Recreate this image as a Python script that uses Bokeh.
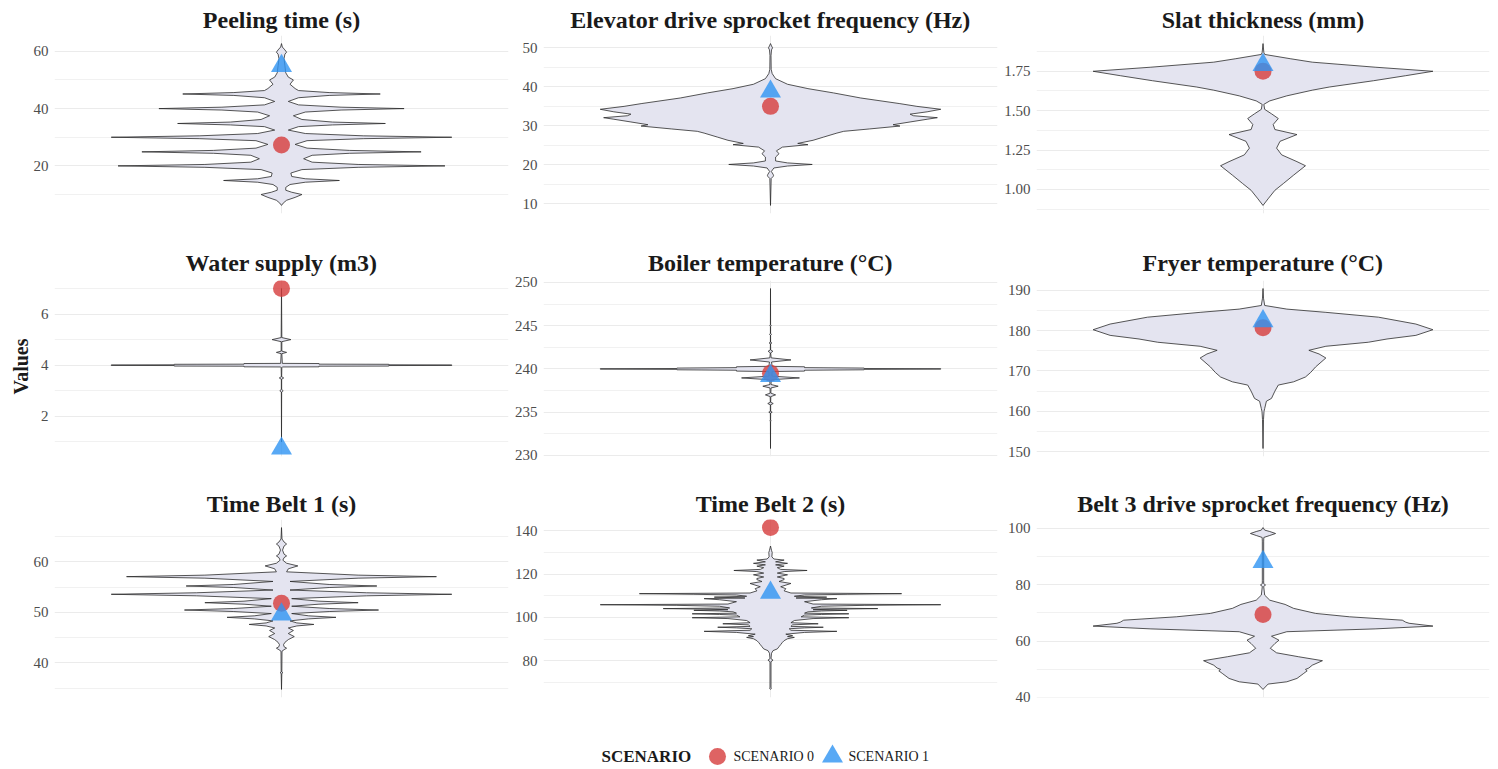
import numpy as np
from bokeh.plotting import figure
from bokeh.layouts import row, column
from bokeh.models import Range1d, FixedTicker, PrintfTickFormatter, Grid
from bokeh.embed import file_html
from bokeh.resources import INLINE
from bokeh.core.properties import value

# ---------------- data ----------------
titles = ["Peeling time (s)", "Elevator drive sprocket frequency (Hz)", "Slat thickness (mm)",
          "Water supply (m3)", "Boiler temperature (\u00b0C)", "Fryer temperature (\u00b0C)",
          "Time Belt 1 (s)", "Time Belt 2 (s)", "Belt 3 drive sprocket frequency (Hz)"]

# violin outlines: value and relative half-width (% of widest point)
peel_y = [6.2, 7.0, 8.0, 9.0, 10.0, 10.8, 11.5, 12.5, 13.5, 14.3, 14.9, 15.5, 16.3, 17.5, 18.7, 19.5, 20.0, 20.5,
          21.3, 22.5, 23.7, 24.4, 24.9, 25.4, 26.2, 27.5, 28.8, 29.5, 30.0, 30.5, 31.3, 32.5, 33.7, 34.3, 34.8,
          35.3, 36.2, 37.5, 38.8, 39.5, 40.0, 40.5, 41.3, 42.5, 43.8, 44.6, 45.1, 45.6, 46.3, 47.0, 48.5, 50.0,
          51.0, 52.5, 55.0, 57.5, 59.0, 59.7, 60.5, 61.5, 62.7]
peel_w = [0, 1, 3, 8, 12, 6, 2.5, 2.5, 5, 14, 34, 14, 6, 5.5, 12, 45, 96, 45, 18, 13, 18, 40, 82, 40, 15, 8, 15,
          48, 100, 48, 14, 4, 10, 30, 61, 30, 12, 7, 14, 35, 72, 35, 10, 4, 10, 28, 58, 28, 10, 8, 5, 7, 4, 2.5,
          2, 1.5, 2, 3, 2, 0.5, 0]

elev_y = [9.6, 16.5, 17.0, 17.3, 17.6, 18.3, 19.2, 19.7, 20.1, 20.5, 21.0, 22.0, 22.85, 23.6, 24.55, 25.17, 25.5,
          26.3, 27.1, 28.15, 28.6, 29.2, 29.95, 30.3, 31.0, 31.7, 32.1, 32.6, 33.0, 33.6, 34.25, 35.0, 35.7,
          37.15, 38.45, 39.55, 40.67, 42.1, 43.4, 44.5, 48.0, 49.5, 50.0, 50.5, 51.1]
elev_w = [0, 0.4, 1.5, 1.8, 1.5, 0.5, 2, 10, 24.5, 10, 3, 3, 5, 3.5, 7, 22, 16, 25, 31, 39, 43, 58, 76, 72, 82,
          92, 98, 84, 82, 92, 100, 86, 76, 53, 37, 22, 10, 3, 1, 0.4, 0.3, 0.6, 1.2, 0.6, 0]

slat_y = [0.898, 0.94, 0.994, 1.037, 1.09, 1.15, 1.176, 1.219, 1.262, 1.305, 1.348, 1.38, 1.412, 1.45, 1.48,
          1.508, 1.54, 1.562, 1.594, 1.63, 1.65, 1.69, 1.722, 1.75, 1.776, 1.808, 1.83, 1.857, 1.87, 1.926]
slat_w = [0, 3, 7, 12, 18, 25, 20, 11, 8, 10, 20, 7, 6, 9, 5, 1, 0.5, 4, 14, 29, 39, 65, 84, 100, 66, 29, 16,
          1, 0.5, 0]

water_y = [1.0, 2.95, 3.0, 3.05, 3.45, 3.5, 3.55, 3.9, 3.93, 3.935, 3.96, 3.965, 3.985, 3.99, 4.01, 4.015,
           4.035, 4.04, 4.065, 4.07, 4.45, 4.5, 4.55, 4.92, 5.0, 5.08, 7.0]
water_w = [0, 0.1, 1, 0.1, 0.1, 1.3, 0.1, 0.2, 0.5, 22, 22, 63, 63, 100, 100, 63, 63, 22, 22, 0.5, 0.2, 3, 0.2,
           0.2, 5.5, 0.2, 0]

boiler_y = [230.8, 233.9, 234.0, 234.1, 234.9, 235.0, 235.1, 235.85, 236.0, 236.15, 236.8, 237.0, 237.2, 237.8,
            238.0, 238.2, 238.75, 238.96, 239.17, 239.7, 239.75, 239.85, 239.9, 239.95, 239.98, 240.02, 240.05,
            240.1, 240.15, 240.25, 240.3, 240.8, 241.04, 241.28, 241.85, 242.04, 242.2, 242.9, 243.0, 243.1,
            243.9, 244.0, 244.1, 244.9, 245.0, 245.1, 249.3]
boiler_w = [0, 0.05, 0.3, 0.05, 0.1, 1, 0.1, 0.1, 1.6, 0.1, 0.2, 3, 0.2, 0.3, 4.5, 0.3, 0.5, 17, 0.8, 1, 20, 20,
            55, 55, 100, 100, 55, 55, 20, 20, 1, 0.6, 12, 0.4, 0.1, 1.4, 0.1, 0.05, 0.8, 0.05, 0.05, 0.6, 0.05,
            0.05, 0.4, 0.05, 0]

fryer_y = [150.8, 158.0, 160.0, 160.7, 162.5, 163.2, 165.0, 166.5, 167.3, 168.5, 169.6, 171.0, 173.2, 174.2,
           175.1, 176.1, 177.1, 177.9, 178.8, 180.2, 181.6, 183.3, 184.5, 185.3, 186.2, 188.0, 190.4]
fryer_w = [0, 0.3, 0.6, 1, 2, 5, 7, 9, 18, 25, 28, 31, 37, 33, 27, 37, 62, 73, 90, 100, 90, 68, 37, 14, 1, 0.3, 0]

tb1_y = [34.75, 37.9, 38.05, 38.2, 42.3, 42.6, 42.9, 43.2, 43.6, 44.05, 44.6, 45.2, 45.8, 46.4, 46.9, 47.3, 47.6,
         47.9, 48.3, 48.7, 49.0, 49.3, 49.75, 50.15, 50.45, 50.75, 51.2, 51.6, 51.9, 52.2, 52.7, 53.26, 53.56,
         53.86, 54.4, 54.9, 55.2, 55.5, 56.1, 56.75, 57.05, 57.35, 58.0, 58.6, 59.17, 59.7, 60.3, 60.8, 61.15,
         61.5, 62.3, 63.1, 63.5, 63.9, 64.5, 66.75]
tb1_w = [0, 0.2, 0.8, 0.2, 0.3, 1.5, 3, 1.5, 1.2, 2, 4, 7.5, 4, 7, 4, 9, 19, 9, 5, 16, 32, 16, 6, 28, 57, 28, 6,
         22, 45, 22, 6, 50, 100, 50, 5, 28, 56, 28, 5, 45, 91, 45, 3, 4, 9.6, 3, 0.8, 1.5, 3, 1.5, 0.6, 1.5, 3,
         1.5, 0.3, 0]

tb2_y = [66.8, 67.3, 67.8, 79.6, 80.3, 81.0, 83.5, 84.7, 85.5, 86.5, 87.5, 88.5, 89.3, 90.2, 90.8, 91.2, 91.6,
         92.3, 93.1, 93.6, 94.1, 94.8, 95.2, 95.5, 95.9, 96.6, 97.1, 97.6, 98.6, 99.5, 99.9, 100.3, 101.1, 101.4,
         101.7, 102.0, 102.6, 103.0, 103.3, 103.6, 103.8, 104.1, 104.4, 105.2, 105.6, 105.9, 106.2, 107.3, 108.2,
         108.7, 109.0, 109.4, 109.8, 110.4, 110.7, 111.0, 111.3, 112.3, 113.3, 114.2, 115.7, 116.6, 117.5, 118.0,
         118.7, 119.7, 120.5, 121.2, 121.7, 122.2, 123.0, 123.7, 124.3, 125.0, 125.7, 126.5, 127.0, 128.0, 130.0,
         131.0, 133.0]
tb2_w = [0, 0.5, 0.3, 0.3, 1.5, 0.3, 0.6, 1.5, 4, 5, 6, 7, 8, 10, 14, 10, 13, 9, 20, 39, 12, 11, 20, 31, 12, 13,
         28, 12, 14, 25, 46, 18, 20, 30, 46, 20, 22, 30, 45, 25, 35, 63, 24, 30, 55, 100, 25, 20, 30, 39, 15, 33,
         14, 20, 45, 77, 12, 8, 9, 6, 12, 5, 8, 8, 4, 10, 4, 8, 21.5, 6, 4, 8, 3, 10, 3, 8, 2, 0.8, 1, 0.6, 0]

belt3_y = [42.8, 44.7, 45.5, 46.7, 48.5, 49.4, 49.9, 50.4, 51.4, 53.0, 54.4, 55.8, 57.4, 59.1, 60.3, 61.7, 63.3,
           64.3, 65.3, 66.3, 66.7, 67.4, 68.6, 69.8, 71.6, 73.0, 74.5, 76.3, 79.4, 79.9, 80.4, 81.6, 95.5, 96.8,
           97.5, 98.2, 98.9, 99.4, 100.3]
belt3_w = [0, 3, 14, 20, 24, 26, 25, 27, 29, 35, 21, 8, 4.3, 7, 9.4, 5, 14, 66, 100, 86, 84, 82, 51, 31, 18, 13,
           4, 1, 0.4, 1.5, 0.4, 0.4, 0.4, 0.5, 4, 7.4, 4, 1, 0]

profiles_y = [peel_y, elev_y, slat_y, water_y, boiler_y, fryer_y, tb1_y, tb2_y, belt3_y]
profiles_w = [peel_w, elev_w, slat_w, water_w, boiler_w, fryer_w, tb1_w, tb2_w, belt3_w]

scenario0 = [27.3, 35.0, 1.75, 7.0, 239.5, 180.7, 51.8, 141.5, 69.4]
scenario1 = [54.9, 38.8, 1.79, 0.74, 239.2, 182.3, 49.6, 111.5, 88.1]

major_ticks = [[20, 40, 60], [10, 20, 30, 40, 50], [1.00, 1.25, 1.50, 1.75], [2, 4, 6],
               [230, 235, 240, 245, 250], [150, 160, 170, 180, 190], [40, 50, 60], [80, 100, 120, 140],
               [40, 60, 80, 100]]
minor_ticks = [[10, 30, 50], [15, 25, 35, 45], [0.875, 1.125, 1.375, 1.625, 1.875], [1, 3, 5, 7],
               [232.5, 237.5, 242.5, 247.5], [155, 165, 175, 185], [35, 45, 55, 65], [70, 90, 110, 130],
               [50, 70, 90]]
tick_formats = ["%d", "%d", "%.2f", "%d", "%d", "%d", "%d", "%d", "%d"]

legend_title = "SCENARIO"
legend_labels = ["SCENARIO 0", "SCENARIO 1"]

# ---------------- style ----------------
FONT = "Liberation Serif"
RED = "#D63C3C"
BLUE = "#2E93F2"
VIOLIN_FILL = "#E4E4F0"
VIOLIN_LINE = "#2B2B2B"
GRID = "#EBEBEB"
GRID_MINOR = "#F1F1F1"

col_w = [480, 491, 489]
col_bl = [24, 33, 35]
col_br = [2, 4, 1]
row_h = [240, 240, 240]
row_bt = [35, 40, 39]
row_bb = [27, 24, 23]
row_title_standoff = [6, 9, 6]

figs = []
for i in range(9):
    r, c = divmod(i, 3)
    ys = np.array(profiles_y[i], dtype=float)
    ws = np.array(profiles_w[i], dtype=float)
    half = ws / ws.max() * 0.45
    lo = min(ys.min(), scenario0[i], scenario1[i])
    hi = max(ys.max(), scenario0[i], scenario1[i])
    pad = 0.05 * (hi - lo)
    p = figure(width=col_w[c], height=row_h[r], x_range=Range1d(-0.6, 0.6),
               y_range=Range1d(lo - pad, hi + pad), output_backend="svg", toolbar_location=None,
               x_axis_location=None, min_border_left=col_bl[c], min_border_right=col_br[c],
               min_border_top=row_bt[r], min_border_bottom=row_bb[r])
    p.outline_line_color = None
    p.background_fill_color = "white"
    p.border_fill_color = "white"
    p.title.text = titles[i]
    p.title.align = "center"
    p.title.text_font = FONT
    p.title.text_font_style = "bold"
    p.title.text_font_size = "24px"
    p.title.text_color = "#1A1A1A"
    p.title.standoff = row_title_standoff[r]

    yax = p.yaxis[0]
    yax.ticker = FixedTicker(ticks=major_ticks[i], minor_ticks=minor_ticks[i])
    yax.formatter = PrintfTickFormatter(format=tick_formats[i])
    yax.axis_line_color = None
    yax.major_tick_line_color = None
    yax.minor_tick_line_color = None
    yax.major_tick_out = 0
    yax.major_tick_in = 0
    yax.minor_tick_out = 0
    yax.major_label_standoff = 6
    yax.major_label_text_font = FONT
    yax.major_label_text_font_size = "15px"
    yax.major_label_text_color = "#4D4D4D"

    p.ygrid.grid_line_color = GRID
    p.ygrid.grid_line_width = 1
    p.ygrid.minor_grid_line_color = GRID_MINOR
    p.ygrid.minor_grid_line_width = 1
    if len(p.xgrid) == 0:
        p.add_layout(Grid(dimension=0))
    p.xgrid.ticker = FixedTicker(ticks=[0])
    p.xgrid.grid_line_color = GRID
    p.xgrid.grid_line_width = 1

    p.patch(np.concatenate([half, -half[::-1]]), np.concatenate([ys, ys[::-1]]),
            fill_color=VIOLIN_FILL, fill_alpha=1.0, line_color=VIOLIN_LINE, line_width=0.8)
    p.scatter([0], [scenario0[i]], marker="circle", size=17, fill_color=RED, fill_alpha=0.8, line_color=None)
    p.scatter([0], [scenario1[i]], marker="triangle", size=21, fill_color=BLUE, fill_alpha=0.8,
              line_color=None)
    figs.append(p)

# y-axis label strip
strip = figure(width=30, height=720, x_range=Range1d(0, 30), y_range=Range1d(0, 720),
               output_backend="svg", toolbar_location=None, x_axis_location=None, y_axis_location=None,
               min_border=0)
strip.outline_line_color = None
strip.grid.visible = False
strip.text(x=[20], y=[354], text=["Values"], angle=np.pi / 2, text_font=value(FONT), text_font_style="bold",
           text_font_size="20px", text_align="center", text_baseline="middle", text_color="#1A1A1A")

# legend strip
leg = figure(width=1490, height=48, x_range=Range1d(0, 1490), y_range=Range1d(0, 48),
             output_backend="svg", toolbar_location=None, x_axis_location=None, y_axis_location=None,
             min_border=0)
leg.outline_line_color = None
leg.grid.visible = False
ly = 12
leg.text(x=[601], y=[ly], text=[legend_title], text_font=value(FONT), text_font_style="bold",
         text_font_size="17px", text_align="left", text_baseline="middle", text_color="#1A1A1A")
leg.scatter([717], [ly], marker="circle", size=17, fill_color=RED, fill_alpha=0.8, line_color=None)
leg.text(x=[733], y=[ly], text=[legend_labels[0]], text_font=value(FONT), text_font_size="14px",
         text_align="left", text_baseline="middle", text_color="#1A1A1A")
leg.scatter([832], [ly], marker="triangle", size=21, fill_color=BLUE, fill_alpha=0.8, line_color=None)
leg.text(x=[848], y=[ly], text=[legend_labels[1]], text_font=value(FONT), text_font_size="14px",
         text_align="left", text_baseline="middle", text_color="#1A1A1A")

grid_col = column(row(figs[0], figs[1], figs[2]), row(figs[3], figs[4], figs[5]),
                  row(figs[6], figs[7], figs[8]))
layout = column(row(strip, grid_col), leg)

open("out.html", "w").write(file_html(layout, INLINE))
